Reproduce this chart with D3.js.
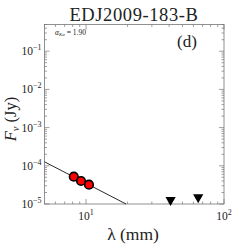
<!DOCTYPE html>
<html>
<head>
<meta charset="utf-8">
<script src="https://cdn.jsdelivr.net/npm/d3@7"></script>
<style>
  body { margin: 0; background: #fff; }
</style>
</head>
<body>
<svg id="chart" width="249" height="249" style="font-family: 'Liberation Serif', serif"></svg>
<script>
// detections (mm, Jy)
const detLam = [8.15, 9.2, 10.5]
const detFlux = [5.2e-5, 4.0e-5, 3.2e-5]
// upper limits (mm, Jy)
const limLam = [41, 65]
const limFlux = [1.27e-5, 1.5e-5]
// power-law fit, end points
const fitLam = [5, 19.5]
const fitFlux = [1.27e-4, 1.0e-5]
const xTicks = [10, 100]
const yTicks = [1e-5, 1e-4, 1e-3, 1e-2, 1e-1]

const margin = { top: 24.5, right: 25, bottom: 45, left: 44.5 }
const width = 249 - margin.left - margin.right
const height = 249 - margin.top - margin.bottom

const svg = d3.select('#chart')
const g = svg.append('g')
  .attr('transform', 'translate(' + margin.left + ',' + margin.top + ')')

const x = d3.scaleLog().domain([5, 100]).range([0, width])
const y = d3.scaleLog().domain([1e-5, 0.5]).range([height, 0])

// minor ticks for log axes
function minors (dom) {
  const out = []
  for (let e = -6; e <= 3; e++) {
    for (let m = 2; m <= 9; m++) {
      const v = m * Math.pow(10, e)
      if (v >= dom[0] && v <= dom[1]) out.push(v)
    }
  }
  return out
}
const grey = '#777'
const ink = '#222'

// frame
g.append('rect')
  .attr('width', width).attr('height', height)
  .attr('fill', 'none').attr('stroke', grey).attr('stroke-width', 0.8)

// x ticks (bottom + top, inward)
const xMin = minors(x.domain())
;[[xTicks, 5], [xMin, 2.5]].forEach(([vals, len]) => {
  g.selectAll(null).data(vals).enter().append('line')
    .attr('x1', d => x(d)).attr('x2', d => x(d))
    .attr('y1', height).attr('y2', height - len)
    .attr('stroke', grey).attr('stroke-width', 0.7)
  g.selectAll(null).data(vals).enter().append('line')
    .attr('x1', d => x(d)).attr('x2', d => x(d))
    .attr('y1', 0).attr('y2', len)
    .attr('stroke', grey).attr('stroke-width', 0.7)
})
// y ticks (left + right, inward)
const yMin = minors(y.domain())
;[[yTicks, 5], [yMin, 2.5]].forEach(([vals, len]) => {
  g.selectAll(null).data(vals).enter().append('line')
    .attr('x1', 0).attr('x2', len)
    .attr('y1', d => y(d)).attr('y2', d => y(d))
    .attr('stroke', grey).attr('stroke-width', 0.7)
  g.selectAll(null).data(vals).enter().append('line')
    .attr('x1', width).attr('x2', width - len)
    .attr('y1', d => y(d)).attr('y2', d => y(d))
    .attr('stroke', grey).attr('stroke-width', 0.7)
})

// tick labels
function powLabel (sel, v) {
  const e = Math.round(Math.log10(v))
  sel.append('tspan').text('10')
  sel.append('tspan').attr('dy', -5).attr('font-size', 8).text(e < 0 ? '\u2212' + (-e) : e)
}
g.selectAll(null).data(xTicks).enter().append('text')
  .attr('x', d => x(d)).attr('y', height + 16)
  .attr('text-anchor', 'middle').attr('font-size', 11.5).attr('fill', ink)
  .each(function (d) { powLabel(d3.select(this), d) })
g.selectAll(null).data(yTicks).enter().append('text')
  .attr('x', -3).attr('y', d => y(d) + 4)
  .attr('text-anchor', 'end').attr('font-size', 11.5).attr('fill', ink)
  .each(function (d) { powLabel(d3.select(this), d) })

// fit line
const line = d3.line().x(d => x(d[0])).y(d => y(d[1]))
g.append('path')
  .datum(d3.zip(fitLam, fitFlux))
  .attr('d', line)
  .attr('fill', 'none').attr('stroke', '#111').attr('stroke-width', 0.9)

// detections
const det = d3.zip(detLam, detFlux)
g.selectAll(null).data(det).enter().append('line')
  .attr('x1', d => x(d[0])).attr('x2', d => x(d[0]))
  .attr('y1', d => y(d[1] * 0.85)).attr('y2', d => y(d[1] * 1.15))
  .attr('stroke', '#111').attr('stroke-width', 0.8)
g.selectAll(null).data(det).enter().append('circle')
  .attr('cx', d => x(d[0])).attr('cy', d => y(d[1]))
  .attr('r', 4.3)
  .attr('fill', '#f00').attr('stroke', '#000').attr('stroke-width', 1.6)

// upper limits
const tri = d3.symbol().type(d3.symbolTriangle).size(45)
g.selectAll(null).data(d3.zip(limLam, limFlux)).enter().append('path')
  .attr('d', tri)
  .attr('transform', d => 'translate(' + x(d[0]) + ',' + y(d[1]) + ') rotate(180)')
  .attr('fill', '#000')

// annotations
const ann = g.append('text').attr('x', 10.5).attr('y', 10).attr('font-size', 7.5).attr('fill', ink)
ann.append('tspan').attr('font-style', 'italic').text('\u03b1')
ann.append('tspan').attr('dy', 1.5).attr('font-size', 5).attr('font-style', 'italic').text('Ka')
ann.append('tspan').attr('dy', -1.5).text(' = 1.90')
g.append('text').attr('x', 132.5).attr('y', 22.5).attr('font-size', 17).attr('fill', ink).text('(d)')

// title
svg.append('text').attr('x', 134).attr('y', 20.5)
  .attr('text-anchor', 'middle').attr('font-size', 18.5).attr('letter-spacing', 0.6)
  .attr('fill', ink).text('EDJ2009-183-B')

// axis labels
svg.append('text').attr('x', 133).attr('y', 239.5)
  .attr('text-anchor', 'middle').attr('font-size', 17.5).attr('fill', ink)
  .text('\u03bb (mm)')
const yl = svg.append('text')
  .attr('transform', 'translate(15.5,119) rotate(-90)')
  .attr('text-anchor', 'middle').attr('font-size', 16.5).attr('fill', ink)
yl.append('tspan').attr('font-style', 'italic').text('F')
yl.append('tspan').attr('dy', 3).attr('font-size', 10.5).attr('font-style', 'italic').text('\u03bd')
yl.append('tspan').attr('dy', -3).text(' (Jy)')
</script>
</body>
</html>
